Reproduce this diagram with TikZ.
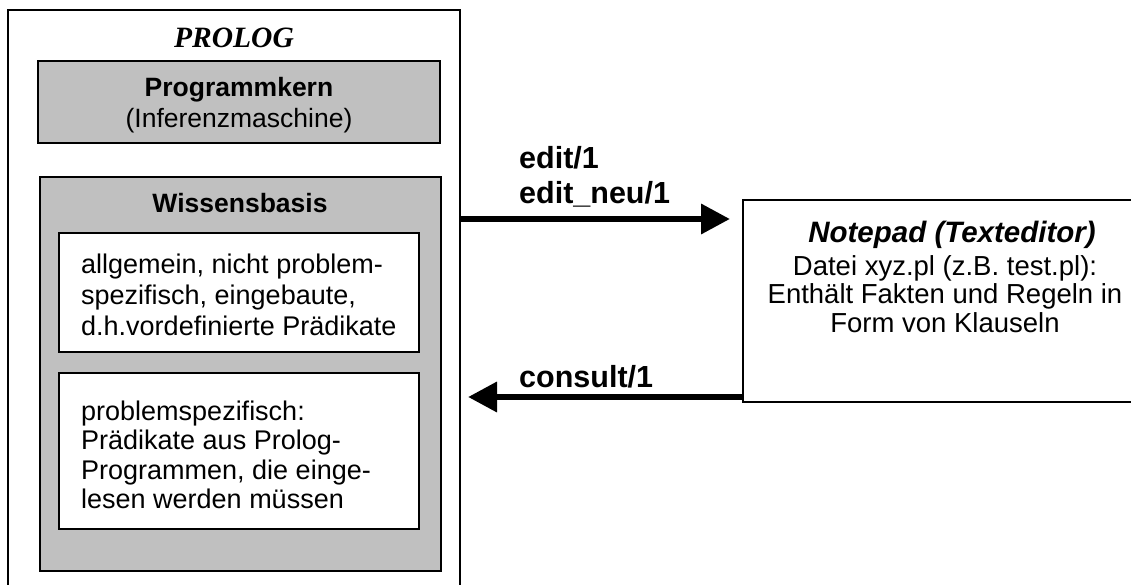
\documentclass[tikz,border=0pt]{standalone}
\usepackage{fontspec}
\setmainfont{Liberation Sans}
\newfontfamily\tnr{Liberation Serif}
\usetikzlibrary{arrows.meta}
\definecolor{boxgray}{HTML}{C0C0C0}
\tikzset{
  frame/.style={draw, line width=2pt, anchor=north west, inner sep=0pt, outer sep=0pt},
  graybox/.style={draw, fill=boxgray, line width=1.6pt, anchor=north west, inner sep=0pt, outer sep=0pt},
  whitebox/.style={draw, fill=white, line width=1.5pt, anchor=north west, inner sep=0pt, outer sep=0pt},
  body/.style={font=\fontsize{27}{30.5}\selectfont, inner sep=0pt, anchor=base west},
  bodyc/.style={font=\fontsize{26.5}{30.5}\selectfont, inner sep=0pt, anchor=base},
  bodyn/.style={font=\fontsize{27.5}{28.5}\selectfont, inner sep=0pt, anchor=base},
  ttl/.style={font=\bfseries\fontsize{26.5}{30.5}\selectfont, inner sep=0pt, anchor=base},
  lbl/.style={font=\bfseries\fontsize{30.5}{35}\selectfont, inner sep=0pt, anchor=base west},
  arr/.style={line width=6.5pt, -{Triangle[length=29pt,width=29pt]}}
}
\begin{document}
\begin{tikzpicture}[x=1pt,y=-1pt]
\useasboundingbox (0,0) rectangle (1131,585);
\clip (0,0) rectangle (1131,585);
% outer PROLOG frame
\node[frame, minimum width=452pt, minimum height=600pt] (outer) at (8,10) {};
\node[inner sep=0pt, anchor=base, font=\tnr\bfseries\itshape\fontsize{29.5}{34}\selectfont] (prolog) at (234,48) {PROLOG};
% Programmkern
\node[graybox, minimum width=402pt, minimum height=82pt] (kern) at (38,61) {};
\node[ttl] (kernt) at (239,97) {Programmkern};
\node[bodyc] (kerns) at (239,128) {(Inferenzmaschine)};
% Wissensbasis
\node[graybox, minimum width=401pt, minimum height=394pt] (wb) at (40,177) {};
\node[ttl] (wbt) at (240,213) {Wissensbasis};
\node[whitebox, minimum width=360pt, minimum height=119pt] (b1) at (59,233) {};
\node[body] (b1a) at (81,273) {allgemein, nicht problem-};
\node[body] (b1b) at (81,304) {spezifisch, eingebaute,};
\node[body] (b1c) at (81,335) {d.h.vordefinierte Prädikate};
\node[whitebox, minimum width=360pt, minimum height=156pt] (b2) at (59,373) {};
\node[body] (b2a) at (81,420) {problemspezifisch:};
\node[body] (b2b) at (81,449) {Prädikate aus Prolog-};
\node[body] (b2c) at (81,479) {Programmen, die einge-};
\node[body] (b2d) at (81,508) {lesen werden müssen};
% Notepad
\node[whitebox, minimum width=420pt, minimum height=202pt] (notepad) at (743,200) {};
\node[inner sep=0pt, anchor=base, font=\bfseries\itshape\fontsize{29.5}{33}\selectfont] (npt) at (952,242) {Notepad (Texteditor)};
\node[bodyn] (np1) at (945,275) {Datei xyz.pl (z.B. test.pl):};
\node[bodyn] (np2) at (945,303) {Enthält Fakten und Regeln in};
\node[bodyn] (np3) at (945,332) {Form von Klauseln};
% arrows
\coordinate (e1) at (730,219);
\draw[arr] (outer.east |- e1) -- (e1);
\coordinate (c1) at (468,397);
\draw[arr] (notepad.west |- c1) -- (c1);
\node[lbl] (l1) at (519,169) {edit/1};
\node[lbl] (l2) at (519,204) {edit\_neu/1};
\node[lbl] (l3) at (519,387) {consult/1};
\end{tikzpicture}
\end{document}
